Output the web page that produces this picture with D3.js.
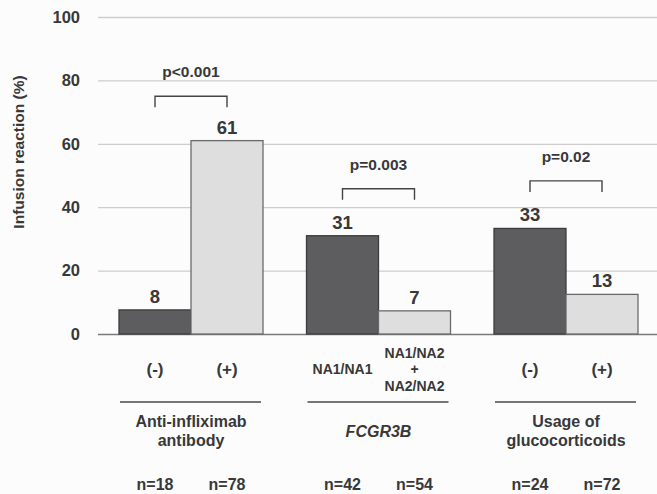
<!DOCTYPE html>
<html>
<head>
<meta charset="utf-8">
<script src="https://cdn.jsdelivr.net/npm/d3@7"></script>
<style>
  body { margin: 0; background: #fcfcfc; }
  svg { display: block; font-family: "Liberation Sans", Arial, sans-serif; font-weight: bold; }
  text { fill: #383838; }
</style>
</head>
<body>
<svg id="plot" width="657" height="494"></svg>
<script>
"use strict";

// chart data
const groups = ["Anti-infliximab antibody", "FCGR3B", "Usage of glucocorticoids"];
const groupLabels = [["Anti-infliximab", "antibody"], ["FCGR3B"], ["Usage of", "glucocorticoids"]];
const subgroups = ["neg", "pos"];
const catLabels = [
  [["(-)"], ["(+)"]],
  [["NA1/NA1"], ["NA1/NA2", "+", "NA2/NA2"]],
  [["(-)"], ["(+)"]]
];
const values = [
  [7.6, 61],
  [31, 7.3],
  [33.3, 12.5]
];
const nLabels = [
  ["n=18", "n=78"],
  ["n=42", "n=54"],
  ["n=24", "n=72"]
];
const pLabels = ["p<0.001", "p=0.003", "p=0.02"];
const pBracket = [75, 45.8, 48.3];
const yTicks = [0, 20, 40, 60, 80, 100];

const width = 657;
const height = 494;
const left = 98;

const svg = d3.select("svg#plot");

let y = d3.scaleLinear().domain([0, 100]).range([334, 17]);

let x = d3.scaleBand().domain(groups).range([119, 638]).paddingInner(0.232).paddingOuter(0);
let xs = d3.scaleBand().domain(subgroups).range([0, x.bandwidth()]);

// y axis with gridlines
let yAxis = svg
  .append("g")
  .attr("transform", `translate(${left},0)`)
  .call(
    d3.axisLeft(y)
      .tickValues(yTicks)
      .tickSize(-(width - left))
      .tickPadding(18)
      .tickFormat(d3.format("d"))
  );
yAxis.attr("font-size", null).attr("font-family", null);
yAxis.select(".domain").remove();
yAxis.selectAll(".tick line")
  .attr("stroke", (d) => (d === 0 ? "#7a7a7a" : "#cdcdcd"))
  .attr("stroke-width", (d) => (d === 0 ? 1.6 : 1.3));
yAxis.selectAll(".tick text")
  .style("font-size", "16.5px")
  .style("font-weight", "bold")
  .attr("fill", "#383838");

svg.append("text")
  .attr("transform", "translate(24,152) rotate(-90)")
  .attr("text-anchor", "middle")
  .attr("font-size", 15.5)
  .text("Infusion reaction (%)");

// bars
let groupG = svg
  .selectAll(".grp")
  .data(groups)
  .enter()
  .append("g")
  .attr("class", "grp")
  .attr("transform", (d) => `translate(${x(d)},0)`);

groupG.each(function (g, gi) {
  let sel = d3.select(this);
  let vals = values[gi];

  sel.selectAll("rect")
    .data(vals)
    .enter()
    .append("rect")
    .attr("x", (d, i) => xs(subgroups[i]))
    .attr("y", (d) => y(d))
    .attr("width", xs.bandwidth())
    .attr("height", (d) => y(0) - y(d))
    .attr("fill", (d, i) => (i === 0 ? "#5d5d5f" : "#dedede"))
    .attr("stroke", (d, i) => (i === 0 ? "#3c3c3c" : "#6a6a6a"))
    .attr("stroke-width", 1.3);

  // value labels
  sel.selectAll(".val")
    .data(vals)
    .enter()
    .append("text")
    .attr("class", "val")
    .attr("x", (d, i) => xs(subgroups[i]) + xs.bandwidth() / 2)
    .attr("y", (d) => y(d) - 7)
    .attr("text-anchor", "middle")
    .attr("font-size", 18.5)
    .attr("fill", "#3e3e3e")
    .text((d) => d3.format(".0f")(d));

  // significance bracket
  let c0 = xs(subgroups[0]) + xs.bandwidth() / 2;
  let c1 = xs(subgroups[1]) + xs.bandwidth() / 2;
  let by = y(pBracket[gi]);
  sel.append("path")
    .attr("d", `M${c0},${by + 11}V${by}H${c1}V${by + 11}`)
    .attr("fill", "none")
    .attr("stroke", "#444")
    .attr("stroke-width", 1.4);
  sel.append("text")
    .attr("x", (c0 + c1) / 2)
    .attr("y", by - 19)
    .attr("text-anchor", "middle")
    .attr("font-size", 15.5)
    .text(pLabels[gi]);

  // category labels under bars
  catLabels[gi].forEach((lines, i) => {
    let cx = xs(subgroups[i]) + xs.bandwidth() / 2;
    let fs = lines[0].startsWith("(") ? 17 : 14;
    let lh = 16.5;
    let t = sel.append("text")
      .attr("text-anchor", "middle")
      .attr("font-size", fs)
      .attr("dominant-baseline", "central");
    lines.forEach((l, li) => {
      t.append("tspan")
        .attr("x", cx)
        .attr("y", 369 + (li - (lines.length - 1) / 2) * lh)
        .text(l);
    });
  });

  // group underline
  sel.append("line")
    .attr("x1", 1)
    .attr("x2", x.bandwidth() - 2)
    .attr("y1", 402)
    .attr("y2", 402)
    .attr("stroke", "#4a4a4a")
    .attr("stroke-width", 1.6);

  // group name
  let gl = groupLabels[gi];
  let gt = sel.append("text")
    .attr("text-anchor", "middle")
    .attr("font-size", 16)
    .attr("dominant-baseline", "central")
    .attr("font-style", g === "FCGR3B" ? "italic" : "normal");
  gl.forEach((l, li) => {
    gt.append("tspan")
      .attr("x", x.bandwidth() / 2)
      .attr("y", 430.5 + (li - (gl.length - 1) / 2) * 19)
      .text(l);
  });

  // n labels
  sel.selectAll(".n")
    .data(nLabels[gi])
    .enter()
    .append("text")
    .attr("class", "n")
    .attr("x", (d, i) => xs(subgroups[i]) + xs.bandwidth() / 2)
    .attr("y", 484)
    .attr("text-anchor", "middle")
    .attr("dominant-baseline", "central")
    .attr("font-size", 16)
    .text((d) => d);
});
</script>
</body>
</html>
